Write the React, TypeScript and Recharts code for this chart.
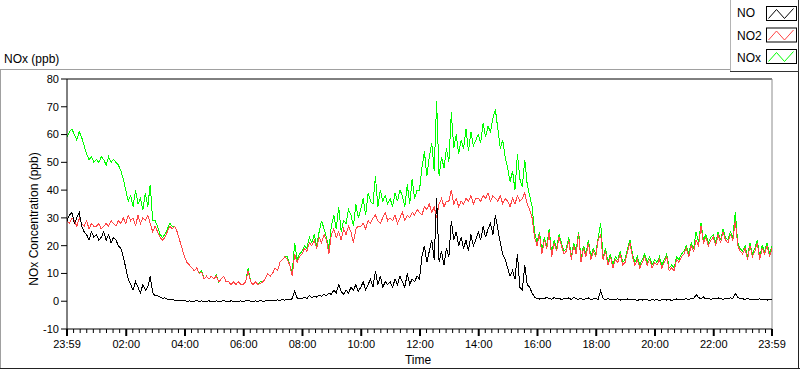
import React from 'react';
import { LineChart, Line, XAxis, YAxis, ReferenceLine } from 'recharts';

// 5-minute readings from 23:59 to 23:59 (ppb), one row per hour
const NO = [
  29, 31, 32, 28, 30, 32, 27, 25, 24, 22, 25, 23,
  24, 22, 23, 25, 22, 24, 21, 23, 22, 20, 19, 16,
  12, 8, 6, 4, 7, 5, 3, 6, 4, 5, 9, 3,
  2, 2, 1.5, 1, 1.2, 0.8, 0.5, 0.7, 0.3, 0.4, 0.2, 0.3,
  0.2, 0, 0.1, 0, 0, 0.2, 0, 0.1, 0, 0, 0.1, 0,
  0, 0.1, 0, 0, 0.2, 0, 0, 0.1, 0, 0, 0, 0.1,
  0, 0.1, 0.2, 0, 0, 0.1, 0, 0.2, 0, 0.1, 0.3, 0.2,
  0.2, 0.3, 0.5, 0.3, 0.6, 0.4, 0.8, 0.5, 0.9, 3.5, 1.2, 0.9,
  1, 1.5, 1, 2, 1.2, 1.8, 1.5, 2.2, 1.7, 2.5, 2, 2.8,
  2.5, 4, 3, 6, 3.5, 2.5, 4, 3, 5, 4, 6, 3.5,
  5, 7, 4, 6, 8, 5, 11, 6, 9, 5, 7, 6,
  7, 5, 8, 6, 9, 7, 5, 10, 6, 8, 7, 9,
  8, 16, 20, 14, 18, 22, 15, 37, 14, 18, 13, 19,
  16, 29, 22, 25, 20, 23, 19, 22, 18, 24, 20, 22,
  25, 22, 27, 23, 26, 28, 24, 31, 26, 21, 17, 15,
  12, 9, 11, 8, 17, 5, 4, 13, 6, 5, 3, 1.5,
  1, 0.8, 1.2, 0.9, 1.4, 1, 0.7, 1.3, 0.9, 1.1, 0.6, 1,
  0.8, 1.2, 0.6, 1.4, 0.9, 0.7, 1.1, 0.5, 0.9, 1.2, 0.6, 0.8,
  0.9, 0.7, 3.8, 1, 0.6, 0.9, 0.5, 0.8, 0.6, 0.9, 0.4, 0.7,
  0.5, 0.8, 0.4, 0.7, 0.5, 0.3, 0.6, 0.4, 0.7, 0.5, 0.3, 0.6,
  0.4, 0.6, 0.3, 0.5, 0.7, 0.4, 0.6, 0.3, 0.5, 0.8, 0.4, 0.6,
  0.7, 0.9, 0.6, 1.1, 0.8, 2.4, 1.3, 0.9, 1.5, 0.8, 1.1, 0.7,
  1, 0.8, 1.2, 0.9, 0.7, 1.1, 0.8, 1.3, 0.9, 2.9, 1.4, 0.8,
  0.9, 0.6, 1.1, 0.7, 0.5, 0.8, 0.6, 0.9, 0.5, 0.7, 0.4, 0.6,
  0.6,
];

const NO2 = [
  29, 28, 30, 29, 27, 30, 28, 27, 29, 26, 28, 27,
  27, 28, 26, 27, 28, 27, 29, 28, 27, 29, 28, 30,
  28, 31, 29, 30, 27, 31, 28, 30, 29, 31, 28, 25,
  27, 25, 23, 22, 23, 25, 27, 26, 27, 25, 22, 19,
  16, 14, 13, 12, 11, 12, 10, 10.5, 8, 9, 8, 9,
  8, 9, 7, 8, 9, 7, 7, 6, 7, 6, 7, 6,
  6, 7, 11, 7, 6, 7, 6, 6.5, 7, 8, 10, 9,
  10, 12, 11, 14, 15, 16, 15, 13, 9, 17, 14, 16,
  17, 19, 18, 21, 20, 22, 19, 23, 21, 24, 22, 17,
  24, 26, 23, 25, 22, 26, 24, 27, 25, 21, 26, 27,
  27, 28, 26, 29, 28, 30, 31, 29, 28, 30, 32, 29,
  30, 29, 31, 28, 30, 32, 29, 31, 30, 32, 31, 33,
  32, 31, 34, 33, 35, 32, 34, 30, 35, 37, 34, 36,
  36, 40, 35, 37, 34, 36, 35, 37, 36, 38, 35, 37,
  37, 36, 38, 37, 39, 36, 38, 37, 36, 38, 35, 37,
  36, 34, 37, 35, 38, 36, 37, 39, 35, 33, 30, 23,
  20, 24, 17, 22, 19, 25, 16, 21, 18, 23, 20, 17,
  18, 22, 15, 20, 17, 24, 14, 19, 16, 21, 15, 18,
  16, 22, 24, 15, 18, 13, 16, 12, 15, 14, 17, 13,
  14, 18, 21, 16, 13, 15, 12, 14, 16, 13, 15, 12,
  14, 13, 15, 12, 14, 16, 11, 12, 11, 15, 14, 16,
  17, 19, 16, 20, 18, 22, 20, 27, 21, 23, 20, 22,
  23, 20, 24, 21, 25, 22, 21, 24, 22, 29, 20, 18,
  17, 19, 15, 20, 16, 18, 21, 15, 19, 17, 20, 16,
  19,
];

const NOX = [
  59, 61, 62, 60, 58, 61, 59, 56, 53, 51, 52, 50,
  51, 50, 52, 51, 49, 52, 50, 51, 50, 49, 47, 44,
  40, 36, 38, 34, 40, 35, 37, 33, 39, 34, 42, 29,
  29, 27, 24, 23, 24, 26, 28, 27, 27, 25, 22, 19,
  16, 14, 13, 12, 11, 12, 10, 11, 8, 9, 8, 9,
  8, 9.5, 7, 8, 9, 7, 7, 6, 7, 6, 7, 6,
  6, 7, 12, 7, 6, 7, 6, 7, 7, 8, 10, 9,
  10, 12, 11, 14, 15, 16, 16, 13, 10, 21, 15, 17,
  18, 20, 19, 23, 21, 24, 20, 25, 29, 26, 23, 19,
  27, 31, 26, 34, 25, 29, 28, 33, 31, 27, 35, 30,
  33, 37, 31, 39, 36, 35, 45, 34, 40, 36, 38, 35,
  37, 34, 39, 36, 40, 38, 34, 42, 35, 44, 37, 40,
  40, 48, 54, 45, 52, 57, 47, 72, 45, 52, 48, 55,
  50, 68, 55, 60, 53, 58, 55, 62, 54, 61, 56, 58,
  60, 57, 64, 59, 63, 61, 66, 69, 62, 55, 58, 52,
  48, 43, 47, 40, 53, 44, 41, 51, 42, 38, 34, 25,
  21, 25, 18, 23, 20, 26, 17, 22, 19, 24, 21, 18,
  19, 23, 16, 21, 18, 25, 15, 20, 17, 22, 16, 19,
  17, 23, 28, 16, 19, 14, 17, 13, 16, 15, 18, 14,
  15, 19, 22, 17, 14, 16, 13, 15, 17, 14, 16, 13,
  15, 14, 16, 13, 15, 17, 12, 13, 12, 16, 15, 17,
  18, 20, 17, 21, 19, 25, 21, 28, 22, 24, 21, 23,
  24, 21, 25, 22, 26, 23, 22, 25, 23, 32, 21, 19,
  18, 20, 16, 21, 17, 19, 22, 16, 20, 18, 21, 17,
  20,
];

// minutes after midnight, first sample at 23:59 of the day before
const times = NO.map((_, i) => -1 + i * 5);

const xMajorTicks = [-1, 120, 240, 360, 480, 600, 720, 840, 960, 1080, 1200, 1320, 1439];
const xTickLabels = ['23:59', '02:00', '04:00', '06:00', '08:00', '10:00', '12:00', '14:00', '16:00', '18:00', '20:00', '22:00', '23:59'];
const yTicks = [-10, 0, 10, 20, 30, 40, 50, 60, 70, 80];

const series = [
  { key: 'no', name: 'NO', color: '#000000' },
  { key: 'no2', name: 'NO2', color: '#ff4646' },
  { key: 'nox', name: 'NOx', color: '#00ff00' },
];

const data = times.map((t, i) => ({ t, no: NO[i], no2: NO2[i], nox: NOX[i] }));

// nine divisions between major ticks, like the LabVIEW graph
const xTicks: number[] = [];
for (let k = 0; k < xMajorTicks.length - 1; k++) {
  const a = xMajorTicks[k];
  const b = xMajorTicks[k + 1];
  for (let j = 0; j < 9; j++) xTicks.push(a + ((b - a) * j) / 9);
}
xTicks.push(1439);

const FONT = '"Liberation Sans", Arial, sans-serif';

function TimeTick({ x, y, payload }: any) {
  const idx = xMajorTicks.indexOf(payload.value);
  const major = idx >= 0;
  return (
    <g>
      <line x1={x} y1={y} x2={x} y2={y + (major ? 7 : 4)} stroke="#000" strokeWidth={major ? 2 : 1} />
      {major && (
        <text x={x} y={y + 19} textAnchor="middle" fontSize={11} fontFamily={FONT} fill="#000">
          {xTickLabels[idx]}
        </text>
      )}
    </g>
  );
}

function Swatch({ color, top }: { color: string; top: number }) {
  return (
    <g transform={`translate(766.5, ${top + 0.5})`}>
      <rect x={0} y={0} width={30} height={14} fill="#fff" stroke="#000" />
      <polyline points="2,12 10,3 18,12 27,2" fill="none" stroke={color} strokeWidth={1} />
    </g>
  );
}

export default function App() {
  return (
    <div style={{ position: 'absolute', left: 0, top: 0, width: 800, height: 369, background: '#fff' }}>
      <LineChart width={800} height={369} data={data} margin={{ top: 79, right: 28, bottom: 10, left: 7 }}>
        <XAxis
          dataKey="t"
          type="number"
          domain={[-1, 1439]}
          ticks={xTicks}
          interval={0}
          height={30}
          tickSize={0}
          tickMargin={0}
          tickLine={false}
          axisLine={{ stroke: '#000' }}
          tick={<TimeTick />}
        />
        <YAxis
          type="number"
          domain={[-10, 80]}
          ticks={yTicks}
          interval={0}
          width={60}
          tickSize={6}
          tickMargin={2}
          axisLine={{ stroke: '#000' }}
          tickLine={{ stroke: '#000' }}
          tick={{ fill: '#000', fontSize: 11, fontFamily: FONT }}
        />
        <ReferenceLine y={80} stroke="#000" />
        <ReferenceLine x={1439} stroke="#8c8c8c" />
        <Line dataKey="nox" type="linear" stroke="#00ff00" strokeWidth={1} shapeRendering="crispEdges" dot={false} activeDot={false} isAnimationActive={false} />
        <Line dataKey="no2" type="linear" stroke="#ff4646" strokeWidth={1} shapeRendering="crispEdges" dot={false} activeDot={false} isAnimationActive={false} />
        <Line dataKey="no" type="linear" stroke="#000000" strokeWidth={1} shapeRendering="crispEdges" dot={false} activeDot={false} isAnimationActive={false} />
      </LineChart>
      <svg
        width={800}
        height={369}
        style={{ position: 'absolute', left: 0, top: 0, pointerEvents: 'none' }}
      >
        <line x1={0} y1={69.5} x2={730} y2={69.5} stroke="#a0a0a0" />
        <line x1={0.5} y1={69} x2={0.5} y2={369} stroke="#a0a0a0" />
        <line x1={0} y1={368.5} x2={800} y2={368.5} stroke="#222" />
        <line x1={798.5} y1={72} x2={798.5} y2={369} stroke="#222" />
        <text x={4} y={63} fontSize={12} fontFamily={FONT} fill="#000">NOx (ppb)</text>
        <text
          x={0}
          y={0}
          transform="translate(38, 219) rotate(-90)"
          textAnchor="middle"
          fontSize={12}
          fontFamily={FONT}
          fill="#000"
        >
          NOx Concentration (ppb)
        </text>
        <text x={418} y={364} textAnchor="middle" fontSize={12} fontFamily={FONT} fill="#000">Time</text>
        <rect x={730} y={0} width={69} height={72} fill="#fff" />
        <line x1={730.5} y1={0} x2={730.5} y2={72} stroke="#b4b4b4" />
        <line x1={730} y1={71.5} x2={799} y2={71.5} stroke="#333" />
        <line x1={798.5} y1={0} x2={798.5} y2={72} stroke="#333" />
        {series.map((s, i) => (
          <g key={s.key}>
            <text x={737} y={17 + i * 22.5} fontSize={12} fontFamily={FONT} fill="#000">{s.name}</text>
            <Swatch color={s.color} top={6 + i * 21.5} />
          </g>
        ))}
      </svg>
    </div>
  );
}
